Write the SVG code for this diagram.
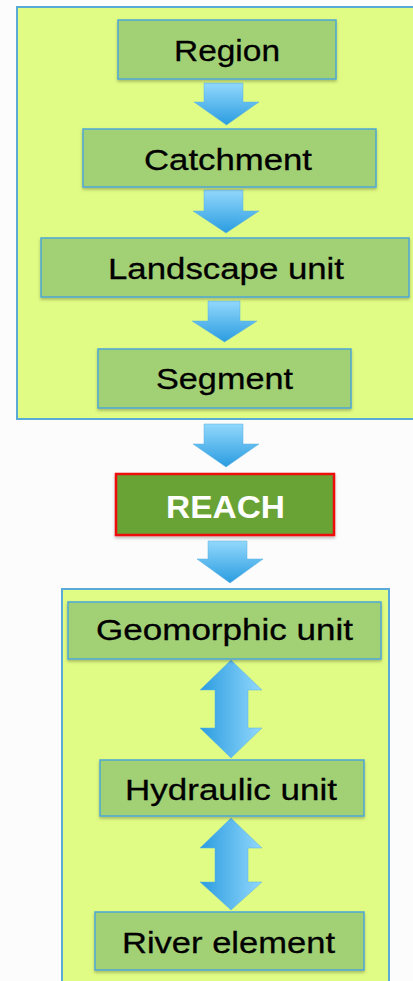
<svg xmlns="http://www.w3.org/2000/svg" width="413" height="981" viewBox="0 0 413 981">
  <style>
    .container { fill: #e1fc84; stroke: #5aaad8; stroke-width: 2; }
    .box { fill: #a2d174; stroke: #4ea6d6; stroke-width: 1.5; }
    .reach { fill: #6aa336; stroke: #ee1111; stroke-width: 2.5; }
    .lbl { font-family: "Liberation Sans", Arial, sans-serif; font-size: 30px; fill: #000; text-anchor: middle; stroke: #000; stroke-width: 0.3; }
    .lblw { font-family: "Liberation Sans", Arial, sans-serif; font-size: 31px; font-weight: bold; fill: #fff; text-anchor: middle; }
    .down { fill: url(#gDown); stroke: #5ab0e0; stroke-width: 0.5; }
    .both { fill: url(#gSide); stroke: #5ab0e0; stroke-width: 0.5; }
  </style>
  <defs>
    <linearGradient id="gDown" x1="0" y1="0" x2="0" y2="1">
      <stop offset="0" stop-color="#92d8fc"/>
      <stop offset="1" stop-color="#2a9ce0"/>
    </linearGradient>
    <linearGradient id="gSide" x1="0" y1="0" x2="1" y2="0">
      <stop offset="0" stop-color="#2a9ce0"/>
      <stop offset="1" stop-color="#92d8fc"/>
    </linearGradient>
    <filter id="sh" x="-10%" y="-10%" width="120%" height="130%">
      <feDropShadow dx="0" dy="2" stdDeviation="1.5" flood-color="#000" flood-opacity="0.25"/>
    </filter>
  </defs>
  <rect x="0" y="0" width="413" height="981" fill="#fcfcfc"/>

  <g id="group-upper">
    <rect class="container" x="17" y="7" width="400" height="412"/>
  </g>
  <g id="group-lower">
    <rect class="container" x="62" y="589" width="327" height="400"/>
  </g>

  <g id="connectors">
    <path class="down" d="M204,83 H243 V102 H259 L226.5,125 L194,102 H204 Z"/>
    <path class="down" d="M204,190 H243 V211 H259 L226,233 L193,211 H204 Z"/>
    <path class="down" d="M208,301 H240 V321 H257 L224.5,342 L192,321 H208 Z"/>
    <path class="down" d="M204,424 H243 V444 H259 L226,467 L193,444 H204 Z"/>
    <path class="down" d="M208,541 H247 V559 H263 L230,583 L197,559 H208 Z"/>
    <path class="both" d="M231,660 L262,690 H248 V728 H262 L231,758 L200,728 H215 V690 H200 Z"/>
    <path class="both" d="M231,818 L262,848 H248 V882 H262 L231,910 L200,882 H215 V848 H200 Z"/>
  </g>

  <g id="node-region">
    <rect class="box" x="118" y="20" width="218" height="59" filter="url(#sh)"/>
    <text class="lbl" x="227" y="61" textLength="106" lengthAdjust="spacingAndGlyphs">Region</text>
  </g>
  <g id="node-catchment">
    <rect class="box" x="83" y="129" width="293" height="58" filter="url(#sh)"/>
    <text class="lbl" x="228" y="170" textLength="168" lengthAdjust="spacingAndGlyphs">Catchment</text>
  </g>
  <g id="node-landscape">
    <rect class="box" x="41" y="238" width="368" height="59" filter="url(#sh)"/>
    <text class="lbl" x="226" y="279" textLength="236" lengthAdjust="spacingAndGlyphs">Landscape unit</text>
  </g>
  <g id="node-segment">
    <rect class="box" x="98" y="349" width="253" height="59" filter="url(#sh)"/>
    <text class="lbl" x="224.5" y="389" textLength="137" lengthAdjust="spacingAndGlyphs">Segment</text>
  </g>
  <g id="node-reach">
    <rect class="reach" x="116" y="474" width="218" height="61" filter="url(#sh)"/>
    <text class="lblw" x="225.5" y="518" textLength="119" lengthAdjust="spacingAndGlyphs">REACH</text>
  </g>
  <g id="node-geomorphic">
    <rect class="box" x="68" y="602" width="313" height="57" filter="url(#sh)"/>
    <text class="lbl" x="224.5" y="640" textLength="257" lengthAdjust="spacingAndGlyphs">Geomorphic unit</text>
  </g>
  <g id="node-hydraulic">
    <rect class="box" x="100" y="760" width="264" height="56" filter="url(#sh)"/>
    <text class="lbl" x="231" y="800" textLength="212" lengthAdjust="spacingAndGlyphs">Hydraulic unit</text>
  </g>
  <g id="node-river">
    <rect class="box" x="95" y="912" width="269" height="58" filter="url(#sh)"/>
    <text class="lbl" x="228.5" y="953" textLength="213" lengthAdjust="spacingAndGlyphs">River element</text>
  </g>
</svg>
